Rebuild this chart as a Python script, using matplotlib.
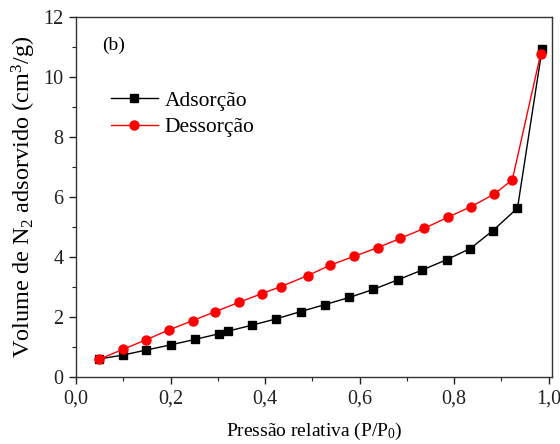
import matplotlib
matplotlib.use("Agg")
import matplotlib.pyplot as plt
from matplotlib.ticker import MultipleLocator, FuncFormatter

# Data
ads_x = [0.049, 0.099, 0.149, 0.200, 0.251, 0.302, 0.322, 0.373, 0.424, 0.475,
         0.526, 0.578, 0.629, 0.681, 0.733, 0.784, 0.834, 0.882, 0.934, 0.986]
ads_y = [0.59, 0.72, 0.89, 1.06, 1.24, 1.43, 1.52, 1.72, 1.93, 2.17,
         2.40, 2.64, 2.91, 3.23, 3.56, 3.90, 4.27, 4.87, 5.62, 10.92]

des_x = [0.049, 0.099, 0.148, 0.197, 0.247, 0.295, 0.345, 0.393, 0.433, 0.490,
         0.538, 0.588, 0.638, 0.686, 0.736, 0.786, 0.836, 0.884, 0.923, 0.983]
des_y = [0.58, 0.91, 1.23, 1.56, 1.87, 2.17, 2.48, 2.77, 3.00, 3.37,
         3.72, 4.01, 4.30, 4.61, 4.94, 5.31, 5.67, 6.08, 6.56, 10.76]

labels = ["Adsorção", "Dessorção"]

plt.rcParams['font.family'] = ['Liberation Serif', 'DejaVu Serif']
plt.rcParams['mathtext.fontset'] = 'custom'
plt.rcParams['mathtext.rm'] = 'Liberation Serif'
plt.rcParams['mathtext.it'] = 'Liberation Serif:italic'

fig = plt.figure(figsize=(5.6, 4.44), dpi=100)
ax = fig.add_axes([76/560, 1 - 376.7/444, 476/560, 360/444])

ax.plot(ads_x, ads_y, color='black', lw=1.0, marker='s', ms=5.5,
        label=labels[0])
ax.plot(des_x, des_y, color='#ff0000', lw=1.0, marker='o', ms=6.5,
        label=labels[1])

ax.set_xlim(0, 1.007)
ax.set_ylim(0, 12)
ax.xaxis.set_major_locator(MultipleLocator(0.2))
ax.xaxis.set_minor_locator(MultipleLocator(0.1))
ax.yaxis.set_major_locator(MultipleLocator(2))
ax.yaxis.set_minor_locator(MultipleLocator(1))
ax.xaxis.set_major_formatter(FuncFormatter(lambda v, p: f"{v:.1f}".replace('.', ',')))
ax.yaxis.set_major_formatter(FuncFormatter(lambda v, p: f"{int(round(v))}"))

ax.tick_params(which='major', direction='out', length=5, width=1, labelsize=14.5,
               colors='#222222', pad=4)
ax.tick_params(which='minor', direction='out', length=3, width=0.8, colors='#222222')
ax.tick_params(top=False, right=False, which='both')
for s in ax.spines.values():
    s.set_linewidth(1.0)
    s.set_color('#333333')

ax.set_xlabel(r'Pressão relativa (P/P$_0$)', fontsize=14, labelpad=9)
ax.set_ylabel(r'Volume de N$_2$ adsorvido (cm$^3$/g)', fontsize=17.5, labelpad=4)

ax.text(0.054, 0.92, '(b)', transform=ax.transAxes, fontsize=14,
        va='center', ha='left')

ax.legend(loc='center left', bbox_to_anchor=(0.073, 0.73), frameon=False,
          fontsize=15.5, handlelength=2.2, handletextpad=0.3, labelspacing=0.3,
          borderpad=0, borderaxespad=0)

fig.savefig('out.png', dpi=100)
